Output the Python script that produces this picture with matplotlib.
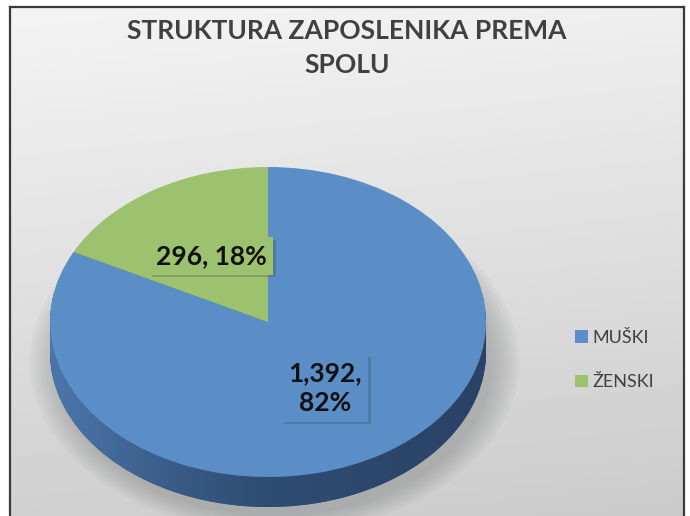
import numpy as np
import matplotlib
matplotlib.use("Agg")
import matplotlib.pyplot as plt
from matplotlib.patches import Ellipse, Polygon
from matplotlib.colors import LinearSegmentedColormap
from matplotlib import patheffects

# podaci
kategorije = ["MUŠKI", "ŽENSKI"]
broj_zaposlenih = [1392, 296]
oznake = ["1,392,\n82%", "296, 18%"]

boje_vrh = ["#5b8dc6", "#9cc26f"]
boje_bok = ["#37598a", "#6f8f45"]

W, H = 690, 516

def px_box(x0, y0, x1, y1):
    return [x0 / W, 1 - y1 / H, (x1 - x0) / W, (y1 - y0) / H]

fig = plt.figure(figsize=(W / 100, H / 100), dpi=100)
fig.patch.set_facecolor("white")

# pozadina s gradijentom
bg = fig.add_axes(px_box(10, 7, 684, 520))
gy = np.linspace(0, 1, 200)[:, None]
gx = np.linspace(0, 1, 200)[None, :]
grad = 0.955 - 0.14 * gy - 0.02 * gx
bg.imshow(grad, cmap="gray", vmin=0, vmax=1, aspect="auto",
          extent=(0, 1, 0, 1), origin="upper")
bg.set_xticks([])
bg.set_yticks([])
for s in ["left", "right", "top"]:
    bg.spines[s].set_color("#3a3a3a")
    bg.spines[s].set_linewidth(1.6)
bg.spines["bottom"].set_visible(False)

# pie (elipsa)
cx, cy, rx, ry = 268, 322, 218, 155
d = 30 / ry
m = 1.2
ax = fig.add_axes(px_box(cx - m * rx, cy - m * ry, cx + m * rx, cy + (m + d) * ry))
ax.patch.set_alpha(0)

# sjena ispod
for k in range(8):
    e = Ellipse((0.03, -d - 0.06), 2.0 + 0.035 * k, 2.0 + 0.03 * k,
                facecolor="#6f7275", alpha=0.05, edgecolor="none", zorder=0)
    ax.add_patch(e)

n = 24
for k in range(n, 0, -1):
    ax.pie(broj_zaposlenih, colors=boje_bok, startangle=90, counterclock=False,
           center=(0, -d * k / n), wedgeprops=dict(linewidth=0))

# sjencanje boka (gradijent lijevo -> desno)
th = np.linspace(np.pi, 2 * np.pi, 200)
band = np.concatenate([np.c_[np.cos(th), np.sin(th)],
                       np.c_[np.cos(th[::-1]), np.sin(th[::-1]) - d]])
clip = Polygon(band, closed=True, facecolor="none", edgecolor="none",
               transform=ax.transData)
cmap_bok = LinearSegmentedColormap.from_list(
    "bok", [(0, "#4c76ab"), (0.35, "#35567f"), (0.5, "#2f4c72"), (1, "#2a4266")])
img = ax.imshow(np.linspace(0, 1, 256)[None, :], cmap=cmap_bok, aspect="auto",
                extent=(-1, 1, -1 - d, 0), zorder=1.5)
img.set_clip_path(clip)

wedges, _, autotexts = ax.pie(broj_zaposlenih, colors=boje_vrh, startangle=90,
                              counterclock=False, autopct="%1.0f%%", pctdistance=0.5,
                              wedgeprops=dict(linewidth=0, zorder=2))

for t, txt, c in zip(autotexts, oznake, boje_vrh):
    t.set_text(txt)
    t.set_fontfamily("Lato")
    t.set_fontweight("bold")
    t.set_fontsize(19)
    t.set_color("#111111")
    t.set_linespacing(1.3)
    t.set_multialignment("center")
    t.set_zorder(4)
    t.set_bbox(dict(boxstyle="square,pad=0.25", facecolor=c, edgecolor="none"))
    t.get_bbox_patch().set_path_effects([
        patheffects.SimplePatchShadow(offset=(2, -2), shadow_rgbFace="#333333", alpha=0.22),
        patheffects.Normal()])

ax.set_aspect("auto")
ax.set_xlim(-m, m)
ax.set_ylim(-m - d, m)
ax.axis("off")

fig.text(347 / W, 1 - 48 / H, "STRUKTURA ZAPOSLENIKA PREMA\nSPOLU", ha="center", va="center",
         fontfamily="Lato", fontweight="bold", fontsize=19, color="#404040",
         linespacing=1.5)

fig.legend(wedges, kategorije, loc="center left", bbox_to_anchor=(566 / W, 1 - 360 / H),
           frameon=False, prop=dict(family="Lato", size=13), labelcolor="#404040",
           handlelength=0.7, handleheight=0.7, handletextpad=0.25, labelspacing=1.6,
           borderpad=0)

fig.savefig("out.png", dpi=100)
